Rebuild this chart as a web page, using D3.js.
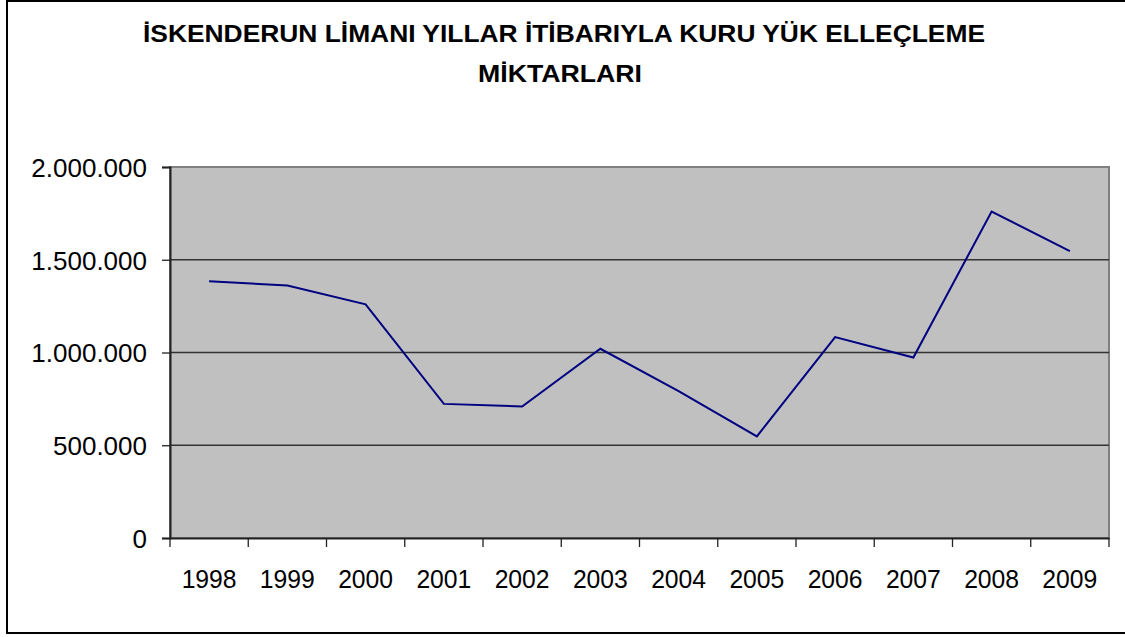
<!DOCTYPE html>
<html>
<head>
<meta charset="utf-8">
<script src="https://cdn.jsdelivr.net/npm/d3@7"></script>
<style>
  body { margin: 0; background: #fff; }
  text { font-family: "Liberation Sans", Arial, sans-serif; fill: #000; }
</style>
</head>
<body>
<div id="chart"></div>
<script>
// Data
const years = ["1998", "1999", "2000", "2001", "2002", "2003", "2004", "2005", "2006", "2007", "2008", "2009"];
const tonnage = [1384000, 1361000, 1260000, 723000, 709000, 1020000, 792000, 548000, 1083000, 973000, 1760000, 1547000];
const yTicks = [0, 500000, 1000000, 1500000, 2000000];
const titleLines = ["İSKENDERUN LİMANI YILLAR İTİBARIYLA KURU YÜK ELLEÇLEME", "MİKTARLARI"];

const width = 1125;
const height = 637;
const plot = { left: 170, right: 1109, top: 167, bottom: 538 };

const svg = d3.select("#chart")
  .append("svg")
  .attr("width", width)
  .attr("height", height);

// Outer frame
svg.append("rect")
  .attr("x", 7)
  .attr("y", 1)
  .attr("width", width + 10)
  .attr("height", 632)
  .attr("fill", "#fff")
  .attr("stroke", "#000")
  .attr("stroke-width", 2);

// Title (wide bold face, stretched to the reference width)
const titleWidths = [842, 164];
svg.selectAll(".title")
  .data(titleLines)
  .enter()
  .append("text")
  .attr("class", "title")
  .attr("x", (d, i) => i === 0 ? 564 : 560)
  .attr("y", (d, i) => 42 + i * 40)
  .attr("text-anchor", "middle")
  .attr("textLength", (d, i) => titleWidths[i])
  .attr("lengthAdjust", "spacingAndGlyphs")
  .style("font-size", "23px")
  .style("font-weight", "bold")
  .text(d => d);

const xScale = d3.scaleBand()
  .domain(years)
  .range([plot.left, plot.right]);

const yScale = d3.scaleLinear()
  .domain([0, 2000000])
  .range([plot.bottom, plot.top]);

// Plot background
svg.append("rect")
  .attr("x", plot.left)
  .attr("y", plot.top)
  .attr("width", plot.right - plot.left)
  .attr("height", plot.bottom - plot.top)
  .attr("fill", "#c0c0c0")
  .attr("stroke", "#808080")
  .attr("stroke-width", 2);

// Gridlines
svg.append("g")
  .selectAll("line")
  .data(yTicks.slice(1, -1))
  .enter()
  .append("line")
  .attr("x1", plot.left)
  .attr("x2", plot.right)
  .attr("y1", d => yScale(d))
  .attr("y2", d => yScale(d))
  .attr("stroke", "#333")
  .attr("stroke-width", 1.3);

// Y axis
const fmt = d3.formatLocale({ decimal: ",", thousands: ".", grouping: [3], currency: ["", ""] }).format(",");
const yAxis = d3.axisLeft(yScale)
  .tickValues(yTicks)
  .tickFormat(fmt)
  .tickSize(8)
  .tickPadding(15);

const yG = svg.append("g")
  .attr("transform", `translate(${plot.left}, 0)`)
  .call(yAxis);
yG.selectAll("text").style("font-size", "26px").attr("dy", "0.36em");

// X axis: ticks on band boundaries
const xAxis = d3.axisBottom(xScale).tickSize(0).tickPadding(32);
const xG = svg.append("g")
  .attr("transform", `translate(0, ${plot.bottom})`)
  .call(xAxis);
xG.selectAll("text")
  .style("font-size", "26px")
  .attr("textLength", 55)
  .attr("lengthAdjust", "spacingAndGlyphs");
xG.selectAll(".boundary")
  .data(years.concat(["end"]))
  .enter()
  .append("line")
  .attr("x1", (d, i) => plot.left + i * xScale.step())
  .attr("x2", (d, i) => plot.left + i * xScale.step())
  .attr("y1", 0)
  .attr("y2", 9)
  .attr("stroke", "#222")
  .attr("stroke-width", 1.3);

svg.selectAll(".domain").attr("stroke", "#222").attr("stroke-width", 2);
svg.selectAll(".tick line").attr("stroke", "#222").attr("stroke-width", 1.3);

// Line
const line = d3.line()
  .x((d, i) => xScale(years[i]) + xScale.bandwidth() / 2)
  .y(d => yScale(d));

svg.append("path")
  .datum(tonnage)
  .attr("d", line)
  .attr("fill", "none")
  .attr("stroke", "#000080")
  .attr("stroke-width", 2);
</script>
</body>
</html>
